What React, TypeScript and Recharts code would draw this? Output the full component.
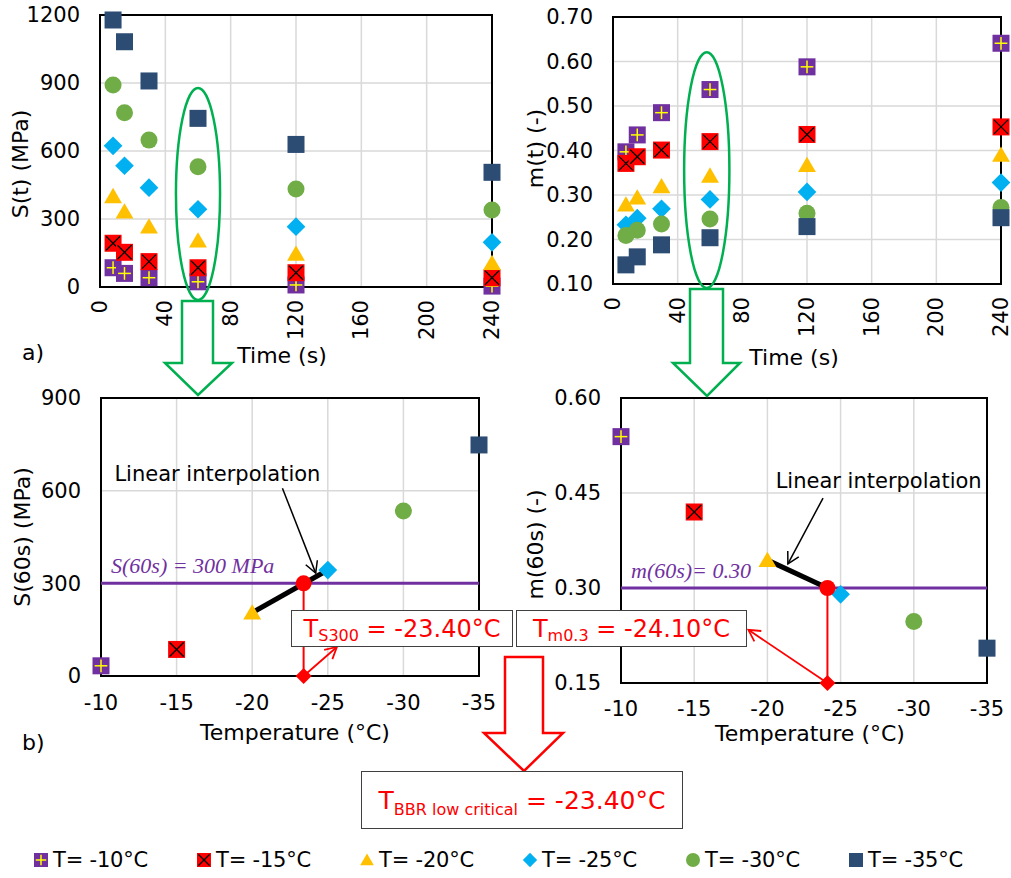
import React from 'react'
import {
  ScatterChart,
  Scatter,
  XAxis,
  YAxis,
  CartesianGrid,
  ReferenceLine,
  ReferenceArea,
  ReferenceDot,
} from 'recharts'

const FONT = '"DejaVu Sans", Verdana, sans-serif'
const MATH = '"Liberation Serif", "Times New Roman", serif'

// time axis (s) and test temperatures (°C)
const times = [8, 15, 30, 60, 120, 240]
const timeTicks = [0, 40, 80, 120, 160, 200, 240]
const temps = [-10, -15, -20, -25, -30, -35]
const legendLabels = ['T= -10°C', 'T= -15°C', 'T= -20°C', 'T= -25°C', 'T= -30°C', 'T= -35°C']

// S(t) in MPa, one array per temperature
const sM10 = [85, 60, 41, 23, 9, 4]
const sM15 = [193, 153, 112, 85, 63, 41]
const sM20 = [400, 332, 266, 204, 146, 105]
const sM25 = [623, 535, 438, 343, 266, 197]
const sM30 = [891, 769, 648, 531, 432, 340]
const sM35 = [1178, 1082, 909, 744, 629, 506]

// m(t), one array per temperature
const mM10 = [0.397, 0.435, 0.485, 0.537, 0.588, 0.641]
const mM15 = [0.371, 0.386, 0.401, 0.42, 0.436, 0.453]
const mM20 = [0.278, 0.294, 0.319, 0.343, 0.367, 0.39]
const mM25 = [0.233, 0.248, 0.269, 0.29, 0.307, 0.328]
const mM30 = [0.209, 0.221, 0.235, 0.246, 0.259, 0.272]
const mM35 = [0.143, 0.161, 0.188, 0.204, 0.229, 0.249]

// values at 60 s, by temperature
const s60 = [33, 86, 205, 343, 534, 748]
const m60 = [0.539, 0.42, 0.344, 0.29, 0.247, 0.205]

const sLimit = 300
const mLimit = 0.3
const tS300 = -23.4
const tM03 = -24.1
const tLow = Math.max(tS300, tM03)

const sSeries = [sM10, sM15, sM20, sM25, sM30, sM35]
const mSeries = [mM10, mM15, mM20, mM25, mM30, mM35]
const kinds = ['plus', 'cross', 'tri', 'diamond', 'circle', 'square']

const GREEN = '#00B050'
const PURPLE = '#7030A0'
const RED = '#FF0000'

function Glyph({ kind, cx, cy, size }: { kind: string; cx: number; cy: number; size: number }) {
  const h = size / 2
  switch (kind) {
    case 'plus':
      return (
        <g>
          <rect x={cx - h} y={cy - h} width={size} height={size} fill={PURPLE} />
          <line x1={cx - h * 0.75} y1={cy} x2={cx + h * 0.75} y2={cy} stroke="#FFFF00" strokeWidth={1.5} />
          <line x1={cx} y1={cy - h * 0.75} x2={cx} y2={cy + h * 0.75} stroke="#FFFF00" strokeWidth={1.5} />
        </g>
      )
    case 'cross':
      return (
        <g>
          <rect x={cx - h} y={cy - h} width={size} height={size} fill={RED} />
          <line x1={cx - h + 1.5} y1={cy - h + 1.5} x2={cx + h - 1.5} y2={cy + h - 1.5} stroke="#000" strokeWidth={1.3} />
          <line x1={cx - h + 1.5} y1={cy + h - 1.5} x2={cx + h - 1.5} y2={cy - h + 1.5} stroke="#000" strokeWidth={1.3} />
        </g>
      )
    case 'tri':
      return (
        <polygon
          points={`${cx},${cy - h * 1.0} ${cx + h * 1.05},${cy + h * 0.8} ${cx - h * 1.05},${cy + h * 0.8}`}
          fill="#FFC000"
        />
      )
    case 'diamond':
      return (
        <polygon
          points={`${cx},${cy - h * 1.1} ${cx + h * 1.1},${cy} ${cx},${cy + h * 1.1} ${cx - h * 1.1},${cy}`}
          fill="#00B0F0"
        />
      )
    case 'circle':
      return <circle cx={cx} cy={cy} r={h} fill="#70AD47" />
    default:
      return <rect x={cx - h} y={cy - h} width={size} height={size} fill="#2C4C74" />
  }
}

const glyphShape = (kind: string, size = 17) => (p: any) => <Glyph kind={kind} cx={p.cx} cy={p.cy} size={size} />
const noShape = () => <g />

const tickStyle = { fill: '#000', fontSize: 21, fontFamily: FONT }

function RotTick(p: any) {
  const yy = p.y + 5
  return (
    <text
      x={p.x}
      y={yy}
      transform={`rotate(-90 ${p.x} ${yy})`}
      textAnchor="end"
      dominantBaseline="central"
      fontSize={21}
      fontFamily={FONT}
      fill="#000"
    >
      {p.payload.value}
    </text>
  )
}

const yTitle = (text: string, dx: number, dy: number) => (props: any) => {
  const vb = props.viewBox
  const cx = vb.x + dx
  const cy = vb.y + vb.height / 2 + dy
  return (
    <text
      x={cx}
      y={cy}
      transform={`rotate(-90 ${cx} ${cy})`}
      textAnchor="middle"
      dominantBaseline="central"
      fontSize={22}
      fontFamily={FONT}
      fill="#000"
    >
      {text}
    </text>
  )
}

const xTitle = (text: string, dx: number, dy: number) => (props: any) => {
  const vb = props.viewBox
  return (
    <text
      x={vb.x + vb.width / 2 + dx}
      y={vb.y + dy}
      textAnchor="middle"
      dominantBaseline="central"
      fontSize={22}
      fontFamily={FONT}
      fill="#000"
    >
      {text}
    </text>
  )
}

const ellipseShape = (p: any) => (
  <ellipse
    cx={p.x + p.width / 2}
    cy={p.y + p.height / 2}
    rx={Math.abs(p.width) / 2}
    ry={Math.abs(p.height) / 2}
    fill="none"
    stroke={GREEN}
    strokeWidth={2.5}
  />
)

const arrowShape = (color: string, width: number, head: number) => (p: any) => {
  const { x1, y1, x2, y2 } = p
  const a = Math.atan2(y2 - y1, x2 - x1)
  const l = `${x2 - head * Math.cos(a - 0.5)},${y2 - head * Math.sin(a - 0.5)}`
  const r = `${x2 - head * Math.cos(a + 0.5)},${y2 - head * Math.sin(a + 0.5)}`
  return (
    <g>
      <line x1={x1} y1={y1} x2={x2} y2={y2} stroke={color} strokeWidth={width} />
      <polyline points={`${l} ${x2},${y2} ${r}`} fill="none" stroke={color} strokeWidth={width} />
    </g>
  )
}

const noteLabel = (value: string) => ({
  value,
  position: 'center' as const,
  fill: '#000',
  fontSize: 21,
  fontFamily: FONT,
})

const limitLabel = (value: string) => ({
  value,
  position: 'insideBottomLeft' as const,
  offset: 10,
  fill: PURPLE,
  fontSize: 22,
  fontStyle: 'italic',
  fontFamily: MATH,
})

function TimeChart({
  rows,
  yDomain,
  yTicks,
  fmt,
  width,
  yWidth,
  margin,
  height,
  xH,
  yT,
  xT,
  ellipse,
}: any) {
  return (
    <ScatterChart width={width} height={height} margin={margin}>
      <CartesianGrid stroke="#d9d9d9" strokeWidth={1.5} />
      <XAxis
        type="number"
        dataKey="x"
        domain={[0, 240]}
        ticks={timeTicks}
        interval={0}
        axisLine={false}
        tickLine={false}
        tick={RotTick}
        height={xH}
        label={xTitle('Time (s)', xT[0], xT[1])}
      />
      <YAxis
        type="number"
        dataKey="y"
        domain={yDomain}
        ticks={yTicks}
        interval={0}
        axisLine={false}
        tickLine={false}
        tickMargin={14}
        tickFormatter={fmt}
        width={yWidth}
        tick={tickStyle}
        label={yT}
      />
      <ReferenceArea
        x1={0}
        x2={240}
        y1={yDomain[0]}
        y2={yDomain[1]}
        fill="none"
        stroke="#000"
        strokeWidth={2}
        ifOverflow="visible"
      />
      <ReferenceArea
        x1={ellipse[0]}
        x2={ellipse[1]}
        y1={ellipse[2]}
        y2={ellipse[3]}
        ifOverflow="visible"
        shape={ellipseShape}
      />
      {rows.map((vals: number[], i: number) => (
        <Scatter
          key={i}
          data={times.map((t, j) => ({ x: t, y: vals[j] }))}
          shape={glyphShape(kinds[i])}
          isAnimationActive={false}
        />
      ))}
    </ScatterChart>
  )
}

function TempChart({
  vals,
  yDomain,
  yTicks,
  fmt,
  width,
  yWidth,
  margin,
  height,
  xH,
  tickGap,
  yT,
  xT,
  limit,
  tCrit,
  limitText,
  lineTo,
  note,
  redArrowTo,
}: any) {
  return (
    <ScatterChart width={width} height={height} margin={margin}>
      <CartesianGrid stroke="#d9d9d9" strokeWidth={1.5} />
      <XAxis
        type="number"
        dataKey="x"
        domain={[-35, -10]}
        reversed
        ticks={temps}
        interval={0}
        axisLine={false}
        tickLine={false}
        tickMargin={tickGap}
        tick={tickStyle}
        height={xH}
        label={xTitle('Temperature (°C)', xT[0], xT[1])}
      />
      <YAxis
        type="number"
        dataKey="y"
        domain={yDomain}
        ticks={yTicks}
        interval={0}
        axisLine={false}
        tickLine={false}
        tickMargin={14}
        tickFormatter={fmt}
        width={yWidth}
        tick={tickStyle}
        label={yT}
      />
      <ReferenceArea
        x1={-35}
        x2={-10}
        y1={yDomain[0]}
        y2={yDomain[1]}
        fill="none"
        stroke="#000"
        strokeWidth={2}
        ifOverflow="visible"
      />
      <ReferenceLine y={limit} stroke={PURPLE} strokeWidth={3} label={limitLabel(limitText)} />
      {/* linear interpolation segment */}
      <Scatter
        data={[{ x: temps[2], y: vals[2] }, lineTo]}
        line={{ stroke: '#000', strokeWidth: 5 }}
        shape={noShape}
        isAnimationActive={false}
      />
      {/* drop line to the temperature axis */}
      <Scatter
        data={[
          { x: tCrit, y: limit },
          { x: tCrit, y: yDomain[0] },
        ]}
        line={{ stroke: RED, strokeWidth: 2 }}
        shape={noShape}
        isAnimationActive={false}
      />
      {vals.map((v: number, i: number) => (
        <Scatter key={i} data={[{ x: temps[i], y: v }]} shape={glyphShape(kinds[i])} isAnimationActive={false} />
      ))}
      <Scatter
        data={[{ x: tCrit, y: limit }]}
        shape={(p: any) => <circle cx={p.cx} cy={p.cy} r={8} fill={RED} />}
        isAnimationActive={false}
      />
      <Scatter
        data={[{ x: tCrit, y: yDomain[0] }]}
        shape={(p: any) => (
          <polygon
            points={`${p.cx},${p.cy - 8} ${p.cx + 8},${p.cy} ${p.cx},${p.cy + 8} ${p.cx - 8},${p.cy}`}
            fill={RED}
          />
        )}
        isAnimationActive={false}
      />
      <ReferenceLine
        segment={[note.tail, note.head]}
        shape={arrowShape('#000', 1.5, 13)}
      />
      <ReferenceDot x={note.text.x} y={note.text.y} r={0} label={noteLabel('Linear interpolation')} />
      <ReferenceLine
        segment={[{ x: tCrit, y: yDomain[0] }, redArrowTo]}
        shape={arrowShape(RED, 1.8, 13)}
      />
    </ScatterChart>
  )
}

function Box({ left, top, width, height, main, sub, size, subSize, shift }: any) {
  return (
    <div
      style={{
        position: 'absolute',
        left,
        top,
        width,
        height,
        boxSizing: 'border-box',
        border: '1.5px solid #404040',
        background: '#fff',
        display: 'flex',
        alignItems: 'center',
        justifyContent: 'center',
        color: RED,
        fontFamily: FONT,
        fontSize: size,
        whiteSpace: 'nowrap',
      }}
    >
      <span>T</span>
      <span style={{ fontSize: subSize, position: 'relative', top: shift }}>{sub}</span>
      <span>&nbsp;{main}</span>
    </div>
  )
}

export default function App() {
  const fmt2 = (v: number) => v.toFixed(2)
  return (
    <div
      style={{
        position: 'absolute',
        left: 0,
        top: 0,
        width: 1011,
        height: 878,
        background: '#fff',
        fontFamily: FONT,
        overflow: 'hidden',
      }}
    >
      <div style={{ position: 'absolute', left: 0, top: 0 }}>
        <TimeChart
          rows={sSeries}
          yDomain={[0, 1200]}
          yTicks={[0, 300, 600, 900, 1200]}
          width={515}
          height={372}
          yWidth={100}
          margin={{ top: 15, right: 23, bottom: 0, left: 0 }}
          xH={85}
          yT={yTitle('S(t) (MPa)', 20, 13)}
          xT={[-14, 68]}
          ellipse={[46.5, 73.5, -57, 878]}
        />
      </div>
      <div style={{ position: 'absolute', left: 500, top: 0 }}>
        <TimeChart
          rows={mSeries}
          yDomain={[0.1, 0.7]}
          yTicks={[0.1, 0.2, 0.3, 0.4, 0.5, 0.6, 0.7]}
          fmt={fmt2}
          width={511}
          height={372}
          yWidth={113}
          margin={{ top: 17, right: 10, bottom: 0, left: 0 }}
          xH={88}
          yT={yTitle('m(t) (-)', 35, -2)}
          xT={[-13, 73]}
          ellipse={[44, 72, 0.091, 0.621]}
        />
      </div>
      <div style={{ position: 'absolute', left: 0, top: 372 }}>
        <TempChart
          vals={s60}
          yDomain={[0, 900]}
          yTicks={[0, 300, 600, 900]}
          width={500}
          height={390}
          yWidth={101}
          margin={{ top: 26, right: 21, bottom: 0, left: 0 }}
          xH={86}
          tickGap={13}
          yT={yTitle('S(60s) (MPa)', 22, 0)}
          xT={[5, 56]}
          limit={sLimit}
          tCrit={tS300}
          limitText="S(60s) = 300 MPa"
          lineTo={{ x: temps[3], y: s60[3] }}
          note={{
            tail: { x: -22.0, y: 608 },
            head: { x: -24.2, y: 333 },
            text: { x: -17.7, y: 657 },
          }}
          redArrowTo={{ x: -25.6, y: 94 }}
        />
      </div>
      <div style={{ position: 'absolute', left: 500, top: 372 }}>
        <TempChart
          vals={m60}
          yDomain={[0.15, 0.6]}
          yTicks={[0.15, 0.3, 0.45, 0.6]}
          fmt={fmt2}
          width={511}
          height={390}
          yWidth={121}
          margin={{ top: 26, right: 24, bottom: 0, left: 0 }}
          xH={79}
          tickGap={12}
          yT={yTitle('m(60s) (-)', 35, 4)}
          xT={[6, 50]}
          limit={mLimit}
          tCrit={tM03}
          limitText="m(60s)= 0.30"
          lineTo={{ x: tM03, y: mLimit }}
          note={{
            tail: { x: -23.8, y: 0.442 },
            head: { x: -21.4, y: 0.338 },
            text: { x: -27.6, y: 0.469 },
          }}
          redArrowTo={{ x: -18.7, y: 0.234 }}
        />
      </div>

      {/* block arrows */}
      <svg width={1011} height={878} style={{ position: 'absolute', left: 0, top: 0, pointerEvents: 'none' }}>
        <path
          d="M182,301 L213,301 L213,363 L232,363 L198,395 L165,363 L182,363 Z"
          fill="none"
          stroke={GREEN}
          strokeWidth={2.5}
        />
        <path
          d="M690,289 L723,289 L723,363 L740,363 L707,396 L673,363 L690,363 Z"
          fill="none"
          stroke={GREEN}
          strokeWidth={2.5}
        />
        <path
          d="M505,657 L543,657 L543,733 L563,733 L524,771 L484,733 L505,733 Z"
          fill="none"
          stroke={RED}
          strokeWidth={2.5}
        />
        <text x={22} y={352} dominantBaseline="central" fontSize={22} fontFamily={FONT} fill="#000">
          a)
        </text>
        <text x={22} y={742} dominantBaseline="central" fontSize={22} fontFamily={FONT} fill="#000">
          b)
        </text>
      </svg>

      <Box left={291} top={610} width={222} height={37} sub="S300" main={`= ${tS300.toFixed(2)}°C`} size={24} subSize={16} shift={7} />
      <Box left={516} top={610} width={231} height={37} sub="m0.3" main={`= ${tM03.toFixed(2)}°C`} size={24} subSize={16} shift={7} />
      <Box left={361} top={771} width={322} height={58} sub="BBR low critical" main={`= ${tLow.toFixed(2)}°C`} size={25} subSize={16} shift={9} />

      {/* legend */}
      {legendLabels.map((lab, i) => (
        <div
          key={lab}
          style={{
            position: 'absolute',
            left: 33 + i * 163,
            top: 847,
            height: 26,
            display: 'flex',
            alignItems: 'center',
            fontSize: 21,
            letterSpacing: -0.2,
            fontFamily: FONT,
            color: '#000',
            whiteSpace: 'nowrap',
          }}
        >
          <svg width={16} height={16} style={{ marginRight: 4 }}>
            <Glyph kind={kinds[i]} cx={8} cy={8} size={kinds[i] === 'diamond' || kinds[i] === 'tri' ? 13 : 14} />
          </svg>
          {lab}
        </div>
      ))}
    </div>
  )
}
